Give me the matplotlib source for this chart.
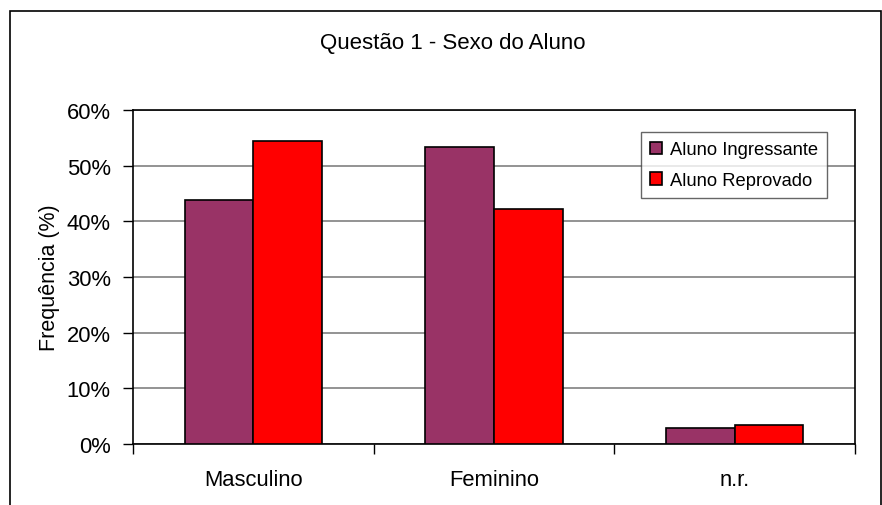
import matplotlib.pyplot as plt
import numpy as np
from matplotlib.patches import Rectangle

plt.rcParams['font.family'] = ['Liberation Sans', 'DejaVu Sans']

categorias = ['Masculino', 'Feminino', 'n.r.']
ingressante = [43.8, 53.3, 2.9]
reprovado = [54.4, 42.2, 3.4]
series = ['Aluno Ingressante', 'Aluno Reprovado']
titulo = 'Questão 1 - Sexo do Aluno'

fig = plt.figure(figsize=(8.82, 5.06), dpi=100)
ax = fig.add_axes([133 / 882, 1 - 445 / 506, 722 / 882, 334 / 506])

# moldura externa (sem borda inferior, como no original)
fig.patches.append(Rectangle((10 / 882, -0.1), 871 / 882, 1.1 - 12 / 506,
                             transform=fig.transFigure, fill=False,
                             edgecolor='black', linewidth=1.2))

x = np.arange(len(categorias))
w = 0.285
ax.bar(x - w / 2, ingressante, w, color='#993366', edgecolor='black',
       linewidth=1.2, label=series[0], zorder=3)
ax.bar(x + w / 2, reprovado, w, color='#FF0000', edgecolor='black',
       linewidth=1.2, label=series[1], zorder=3)

ax.set_xlim(-0.5, 2.5)
ax.set_ylim(0, 60)
ax.set_yticks(np.arange(0, 61, 10))
ax.set_yticklabels([f'{v}%' for v in range(0, 61, 10)], fontsize=15.8)
ax.yaxis.grid(True, color='#808080', linewidth=1.2, zorder=0)

ax.set_xticks(x)
ax.set_xticklabels(categorias, fontsize=15.8)
ax.tick_params(axis='x', length=0, pad=18)
ax.set_xticks([-0.5, 0.5, 1.5, 2.5], minor=True)
ax.tick_params(axis='x', which='minor', length=7, width=1)
ax.tick_params(axis='y', length=7, width=1, pad=9)

for s in ax.spines.values():
    s.set_linewidth(1.2)
    s.set_color('black')

ax.set_ylabel('Frequência (%)', fontsize=15.5, labelpad=5)
fig.text(453 / 882, 1 - 43 / 506, titulo, fontsize=16, ha='center', va='center')

leg = ax.legend(loc='upper left', bbox_to_anchor=(0.704, 0.934), fontsize=13.2,
                frameon=True, fancybox=False, handlelength=0.65, handleheight=0.65,
                handletextpad=0.4, borderpad=0.5, labelspacing=0.75,
                borderaxespad=0)
leg.get_frame().set_edgecolor('#404040')
leg.get_frame().set_linewidth(1.0)

fig.savefig('out.png', dpi=100)
